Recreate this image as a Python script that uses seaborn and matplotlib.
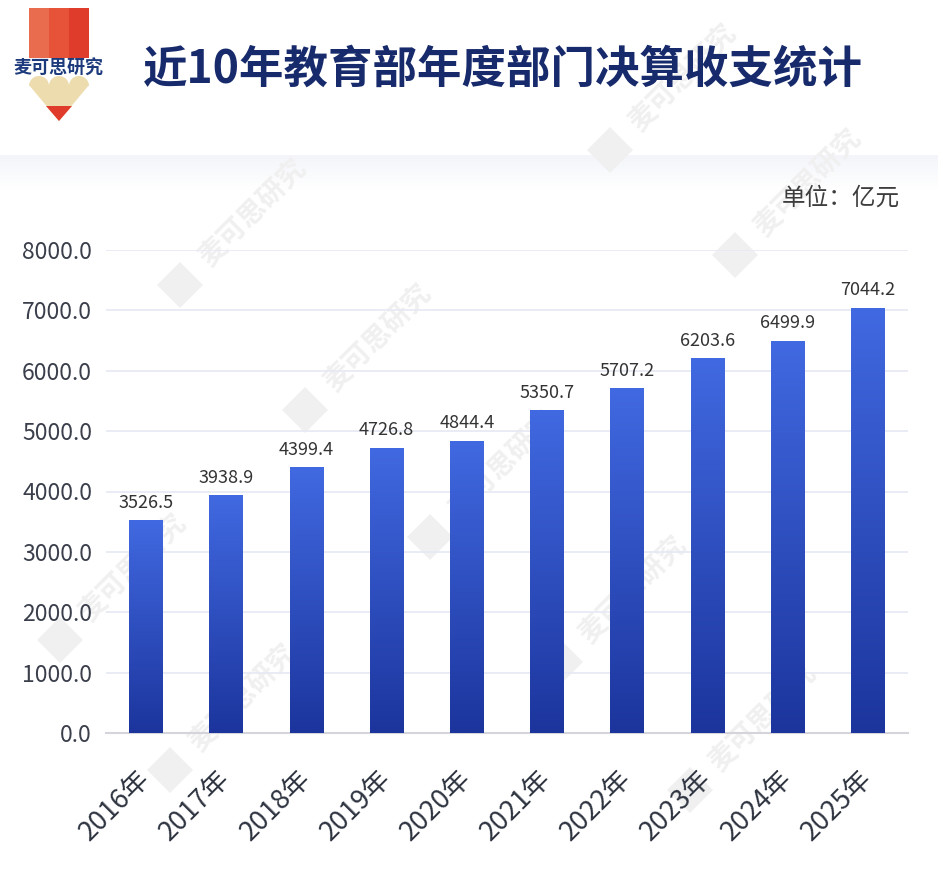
import numpy as np
import pandas as pd
import matplotlib
matplotlib.use('Agg')
import matplotlib.pyplot as plt
import seaborn as sns
from matplotlib.colors import LinearSegmentedColormap
from matplotlib.patches import Rectangle, Polygon, RegularPolygon, Wedge

# data
years = ['2016年', '2017年', '2018年', '2019年', '2020年',
         '2021年', '2022年', '2023年', '2024年', '2025年']
values = [3526.5, 3938.9, 4399.4, 4726.8, 4844.4,
          5350.7, 5707.2, 6203.6, 6499.9, 7044.2]
y_ticks = [0, 1000, 2000, 3000, 4000, 5000, 6000, 7000, 8000]
title = '近10年教育部年度部门决算收支统计'
unit = '单位：亿元'
brand = '麦可思研究'

sns.set_theme(style='white')
plt.rcParams['font.family'] = ['Noto Sans CJK SC', 'DejaVu Sans']

W, H = 938, 874
fig = plt.figure(figsize=(W / 100, H / 100), dpi=100)
fig.patch.set_facecolor('white')

# background layer in pixel coordinates (header, logo, watermark)
bg = fig.add_axes([0, 0, 1, 1], zorder=0)
bg.axis('off')

band = np.linspace(0, 1, 64).reshape(-1, 1)
band_cmap = LinearSegmentedColormap.from_list('band', ['#f3f5fa', '#ffffff'])
bg.imshow(band, cmap=band_cmap, extent=[0, W, 190, 155], aspect='auto', vmin=0, vmax=1)

# faint watermark tiles (only the ones that fit inside the picture)
wm_anchors = [(180, 285), (305, 410), (430, 537), (560, 662), (690, 790),
              (735, 255), (60, 640), (170, 770), (610, 150)]
for cx, cy in wm_anchors:
    bg.add_patch(RegularPolygon((cx, cy), 4, radius=23, orientation=0,
                                facecolor='#f0f0f0', edgecolor='none'))
    bg.text(cx + 24, cy - 24, brand, rotation=45, rotation_mode='anchor',
            ha='left', va='center', fontsize=20, fontweight='bold', color='#f0f0f0')

# logo
for x0, c in zip([29, 49, 69], ['#ea6c4f', '#e65338', '#e03c2b']):
    bg.add_patch(Rectangle((x0, 8), 20, 50, facecolor=c, edgecolor='none'))
bg.add_patch(Polygon([(29, 85), (89, 85), (59, 121)], closed=True,
                     facecolor='#ecdcae', edgecolor='none'))
for sx in [39, 59, 79]:
    bg.add_patch(Wedge((sx, 86), 10, 180, 360, facecolor='#ecdcae', edgecolor='none'))
bg.add_patch(Polygon([(46, 106), (72, 106), (59, 121)], closed=True,
                     facecolor='#e03c2b', edgecolor='none'))
bg.text(58, 68, brand, ha='center', va='center', fontsize=13, fontweight='bold',
        color='#1d3b7c')

bg.text(143, 70, title, ha='left', va='center', fontsize=32, fontweight='heavy',
        color='#172a6b')
bg.text(900, 198, unit, ha='right', va='center', fontsize=17, color='#3d3d3d')

bg.set_xlim(0, W)
bg.set_ylim(H, 0)

# main chart
ax = fig.add_axes([106 / W, (H - 733) / H, 802 / W, 483 / H], zorder=1)
ax.patch.set_alpha(0)

df = pd.DataFrame({'year': years, 'value': values})
sns.barplot(data=df, x='year', y='value', ax=ax, width=0.42,
            color='#3a5fd9', saturation=1, zorder=2)

bar_cmap = LinearSegmentedColormap.from_list('bar', ['#1c359d', '#4169e1'])
grad = np.linspace(0, 1, 256).reshape(-1, 1)
for bar in ax.patches:
    x0, w, h = bar.get_x(), bar.get_width(), bar.get_height()
    im = ax.imshow(grad, cmap=bar_cmap, extent=[x0, x0 + w, 0, h],
                   origin='lower', aspect='auto', vmin=0, vmax=1, zorder=3)
    im.set_clip_path(bar)
    bar.set_facecolor('none')
    bar.set_edgecolor('none')

ax.bar_label(ax.containers[0], labels=[f'{v:.1f}' for v in values],
             padding=6, fontsize=13, color='#333333')

ax.set_xlim(-0.5, len(years) - 0.5)
ax.set_ylim(0, 8000)
ax.set_yticks(y_ticks)
ax.set_yticklabels([f'{t:.1f}' for t in y_ticks])
ax.yaxis.grid(True, color='#e6e9f4', linewidth=1.2)
ax.set_axisbelow(True)
for s in ['left', 'top', 'right']:
    ax.spines[s].set_visible(False)
ax.spines['bottom'].set_color('#d3d5db')
ax.spines['bottom'].set_linewidth(1.5)

ax.tick_params(axis='y', length=0, pad=10, labelsize=16.5, labelcolor='#3a3f4b')
ax.tick_params(axis='x', length=0, pad=30, labelsize=19.5, labelcolor='#2e3440')
for lbl in ax.get_xticklabels():
    lbl.set_rotation(45)
    lbl.set_ha('right')
    lbl.set_va('center')
    lbl.set_rotation_mode('anchor')

ax.set_xlabel('')
ax.set_ylabel('')

fig.savefig('out.png', dpi=100)
